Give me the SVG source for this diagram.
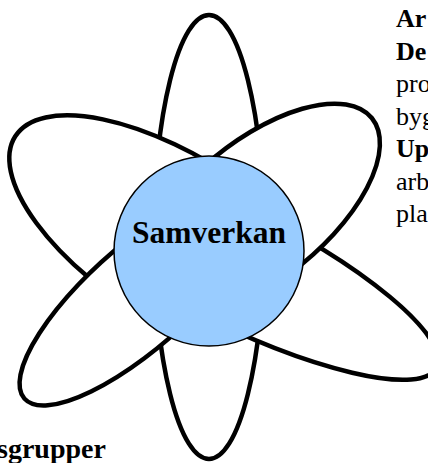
<svg xmlns="http://www.w3.org/2000/svg" width="428" height="463" viewBox="0 0 428 463">
<style>
.petal{fill:#fff;stroke:#000;stroke-width:4.5;stroke-linejoin:round}
.hub{fill:#99ccff;stroke:#000;stroke-width:1.5}
.t{font-family:"Liberation Serif","Times New Roman",serif;font-size:26px;fill:#000}
.b{font-weight:bold}
</style>
<rect width="428" height="463" fill="#fff"/>
<g id="petals">
<g id="petal-vertical"><ellipse class="petal" cx="209" cy="237" rx="55" ry="222"/></g>
<g id="petal-upper-left"><path class="petal" d="M152.2,322.3 A196,83 212.7 1 1 241.4,183.3 Z"/></g>
<g id="petal-lower-right"><path class="petal" d="M241.8,205.7 A231,58 26.5 1 1 190.2,309.3 Z"/></g>
<g id="petal-upper-right"><path class="petal" d="M204,166.3 A146,69 -39.2 1 1 290.8,272.7 Z"/></g>
<g id="petal-lower-left"><path class="petal" d="M192.1,317 A154,51 138.4 1 1 125.3,241.8 Z"/></g>
</g>
<g id="hub">
<circle class="hub" cx="209" cy="251" r="95"/>
<text class="t b" x="209" y="243" text-anchor="middle" style="font-size:31.5px">Samverkan</text>
</g>
<g id="side-text">
<text class="t b" x="396" y="27">Ar</text>
<text class="t b" x="396" y="59.5">De</text>
<text class="t" x="396" y="92">pro</text>
<text class="t" x="396" y="124.5">byg</text>
<text class="t b" x="396" y="157">Up</text>
<text class="t" x="396" y="189.5">arb</text>
<text class="t" x="396" y="222">pla</text>
<text class="t b" x="-3" y="458" style="font-size:28px">sgrupper</text>
</g>
</svg>
